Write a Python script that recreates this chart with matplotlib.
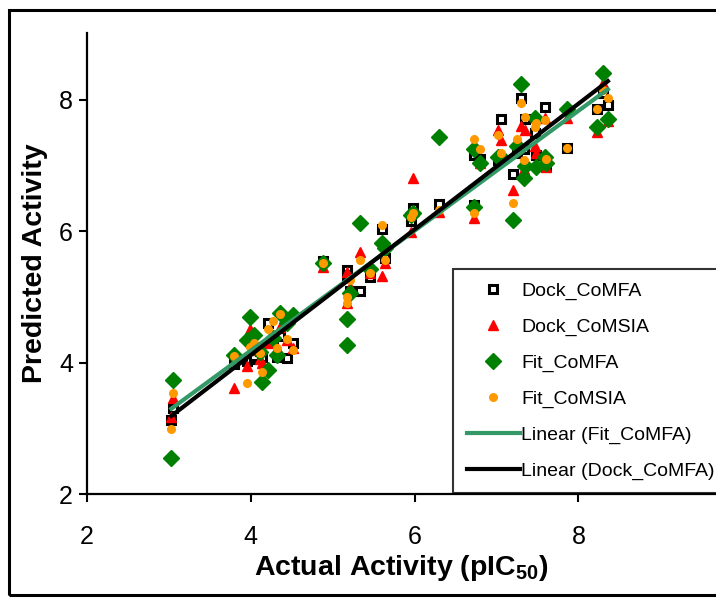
import numpy as np
import matplotlib
matplotlib.use("Agg")
import matplotlib.pyplot as plt
from matplotlib.patches import Rectangle

plt.rcParams['font.family'] = ['Liberation Sans', 'DejaVu Sans']
plt.rcParams['mathtext.fontset'] = 'custom'
plt.rcParams['mathtext.rm'] = 'Liberation Sans'
plt.rcParams['mathtext.bf'] = 'Liberation Sans:bold'

# actual activity (pIC50) of each compound, shared by all four models
actual = [3.05, 3.03, 3.79, 3.95, 3.99, 4.04, 4.14, 4.11, 4.21, 4.27,
          4.36, 4.44, 4.51, 4.32, 4.88, 5.17, 5.18, 5.21, 5.33, 5.46,
          5.60, 5.64, 5.98, 5.96, 6.30, 6.73, 6.72, 6.80, 7.02, 7.05,
          7.20, 7.25, 7.30, 7.33, 7.35, 7.47, 7.48, 7.59, 7.60, 7.86,
          8.23, 8.30, 8.36]

dock_comfa = [3.31, 3.13, 3.98, 4.02, 4.05, 4.10, 4.08, 4.18, 4.60, 4.31,
              4.40, 4.07, 4.30, 4.09, 5.55, 5.41, 5.33, 5.09, 5.09, 5.30,
              6.03, 5.60, 6.35, 6.16, 6.41, 6.40, 7.16, 7.10, 7.08, 7.71,
              6.87, 7.19, 8.03, 7.25, 7.71, 7.50, 7.16, 7.89, 7.00, 7.27,
              7.86, 8.10, 7.93]

dock_comsia = [3.46, 3.17, 3.61, 3.95, 4.51, 4.20, 3.99, 4.05, 4.30, 4.40,
               4.54, 4.34, 4.22, 4.22, 5.46, 5.38, 4.91, 5.15, 5.68, 5.36,
               5.32, 5.52, 6.81, 5.99, 6.30, 6.20, 7.30, 7.04, 7.54, 7.39,
               6.63, 7.36, 7.60, 6.95, 7.54, 7.30, 7.20, 7.72, 6.98, 7.73,
               7.51, 8.26, 7.68]

fit_comfa = [3.73, 2.55, 4.12, 4.34, 4.69, 4.42, 3.70, 4.16, 3.89, 4.37,
             4.76, 4.60, 4.72, 4.12, 5.52, 4.66, 4.27, 5.06, 6.12, 5.42,
             5.82, 5.74, 6.28, 6.25, 7.43, 6.37, 7.25, 7.04, 7.13, 7.13,
             6.17, 7.30, 8.24, 6.81, 7.00, 7.72, 6.98, 7.13, 7.04, 7.86,
             7.59, 8.41, 7.71]

fit_comsia = [3.54, 2.99, 4.10, 3.69, 4.24, 4.30, 3.86, 4.15, 4.52, 4.63,
              4.74, 4.36, 4.19, 4.22, 5.52, 5.00, 4.91, 5.26, 5.56, 5.36,
              6.09, 5.56, 6.28, 6.22, 6.32, 6.28, 7.40, 7.25, 7.47, 7.19,
              6.43, 7.40, 7.95, 7.08, 7.74, 7.59, 7.65, 7.70, 7.10, 7.27,
              7.86, 8.15, 8.03]

fig = plt.figure(figsize=(7.16, 6.0), dpi=100)
ax = fig.add_axes([87 / 716, 106 / 600, 629 / 716, 461 / 600])

ax.plot(actual, dock_comfa, 's', ms=5.5, mfc='white', mec='black', mew=2.2,
        label='Dock_CoMFA', zorder=3)
ax.plot(actual, dock_comsia, '^', ms=7.5, color='#ff0000', mec='#ff0000',
        label='Dock_CoMSIA', zorder=3)
ax.plot(actual, fit_comfa, 'D', ms=8, color='#008000', mec='#008000',
        label='Fit_CoMFA', zorder=3)
ax.plot(actual, fit_comsia, 'o', ms=5.5, color='#ff9900', mec='#ff9900',
        label='Fit_CoMSIA', zorder=3)

# linear trend lines (least squares fits, as excel does them)
xs = np.array([min(actual), max(actual)])
k1, b1 = np.polyfit(actual, fit_comfa, 1)
k2, b2 = np.polyfit(actual, dock_comfa, 1)
ax.plot(xs, k1 * xs + b1, color='#339966', lw=3, label='Linear (Fit_CoMFA)', zorder=4)
ax.plot(xs, k2 * xs + b2, color='black', lw=3, label='Linear (Dock_CoMFA)', zorder=5)

ax.set_xlim(2, 9.68)
ax.set_ylim(2, 9.02)
ax.set_xticks([2, 4, 6, 8])
ax.set_yticks([2, 4, 6, 8])
for s in ['top', 'right']:
    ax.spines[s].set_visible(False)
for s in ['left', 'bottom']:
    ax.spines[s].set_linewidth(1.6)
ax.tick_params(direction='out', length=6, width=1.5, labelsize=18)
ax.tick_params(axis='x', pad=16)
ax.tick_params(axis='y', pad=4)

ax.set_xlabel('Actual Activity (pIC$\\mathbf{_{50}}$)', fontsize=20.5, fontweight='bold', labelpad=3)
ax.set_ylabel('Predicted Activity', fontsize=20.5, fontweight='bold', labelpad=8)

leg = fig.legend(loc='upper left', bbox_to_anchor=(453 / 716, 1 - 269 / 600),
                 fontsize=14, frameon=True, fancybox=False, handlelength=2.75,
                 handletextpad=0.05, labelspacing=0.93, borderpad=0.7,
                 borderaxespad=0)
leg.get_frame().set_edgecolor('black')
leg.get_frame().set_linewidth(1.5)

# outer chart border
fig.patches.append(Rectangle((9 / 716, 5 / 600), 1.1, 585 / 600, transform=fig.transFigure,
                             fill=False, lw=2.2, edgecolor='black', clip_on=False))

fig.savefig('out.png', dpi=100)
